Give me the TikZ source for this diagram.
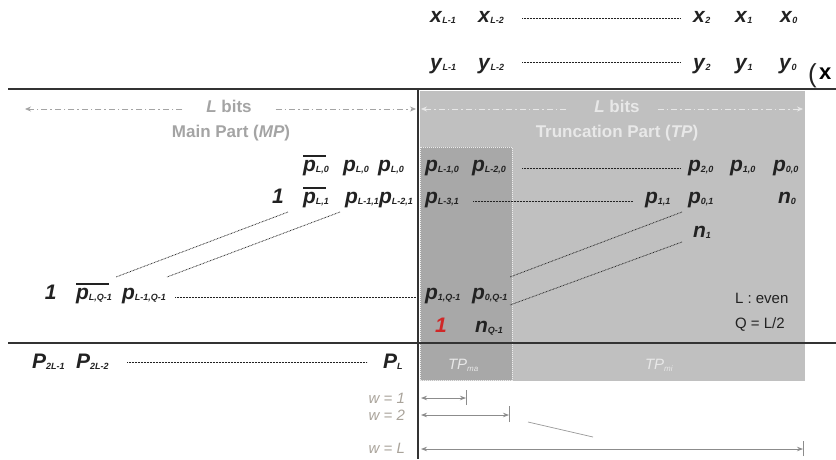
\documentclass[tikz,border=0pt]{standalone}
\usepackage{fontspec}
\setmainfont{Liberation Sans}
\usetikzlibrary{arrows.meta}
\definecolor{tpgray}{HTML}{C0C0C0}
\definecolor{tpdark}{HTML}{A8A8A8}
\definecolor{ink}{HTML}{222222}
\definecolor{mpgray}{HTML}{A4A4A4}
\definecolor{tplight}{HTML}{E8E8E8}
\definecolor{wgray}{HTML}{A9A39A}
\definecolor{rulec}{HTML}{333333}
\definecolor{onered}{HTML}{D02828}
\newcommand\V[2]{\textbf{\textit{#1}}\raisebox{-1.5pt}{\fontsize{9}{9}\selectfont\textbf{\textit{#2}}}}
\newsavebox\vbbox
\newcommand\Vb[2]{\sbox\vbbox{\V{#1}{#2}}\rlap{\rule[14.5pt]{\dimexpr\wd\vbbox-3pt\relax}{1.3pt}}\usebox\vbbox}
\begin{document}
\begin{tikzpicture}[x=1pt,y=-1pt,
  every node/.style={inner sep=0pt, outer sep=0pt},
  var/.style={anchor=base west, text=ink, font=\fontsize{21}{24}\selectfont},
  dotline/.style={draw=ink, line width=0.8pt, dash pattern=on 0.7pt off 0.8pt},
  rulel/.style={draw=rulec, line width=1.3pt},
  bitarrow/.style={dash pattern=on 6pt off 3pt on 1.5pt off 3pt, line width=0.8pt, -{Stealth[length=6pt,width=5pt]}},
  head/.style={anchor=base, font=\fontsize{17}{20}\selectfont\bfseries},
  wlab/.style={anchor=base east, text=wgray, font=\fontsize{15}{18}\selectfont\itshape},
  warrow/.style={draw=gray!90, line width=0.8pt, {Stealth[length=6pt,width=4.5pt]}-{Stealth[length=6pt,width=4.5pt]}},
  tick/.style={draw=gray!90, line width=0.8pt},
  note/.style={anchor=base west, text=ink, font=\fontsize{15}{18}\selectfont},
  tplab/.style={anchor=base west, text=tplight, font=\fontsize{15}{18}\selectfont\itshape}
]
\useasboundingbox (0,0) rectangle (836,459);
% shaded areas
\fill[tpgray] (420,91) rectangle (805,381);
\fill[tpdark] (420,147) rectangle (512,380);
\draw[white!85!gray, line width=0.6pt, dash pattern=on 1pt off 1pt] (420,147) rectangle (512,380);
% black rules
\draw[rulel] (8,89) -- (836,89);
\draw[rulel] (8,343) -- (836,343);
\draw[rulel] (418,89) -- (418,459);
% top operands
\node[var] (xL1) at (430,22) {\V{x}{L-1}};
\node[var] (xL2) at (478,22) {\V{x}{L-2}};
\node[var] (x2) at (693,22) {\V{x}{2}};
\node[var] (x1) at (735,22) {\V{x}{1}};
\node[var] (x0) at (780,22) {\V{x}{0}};
\coordinate (dxa) at (522,18); \coordinate (dxb) at (680,18);
\draw[dotline] (dxa) -- (dxb);
\node[var] (yL1) at (430,69) {\V{y}{L-1}};
\node[var] (yL2) at (478,69) {\V{y}{L-2}};
\node[var] (y2) at (693,69) {\V{y}{2}};
\node[var] (y1) at (735,69) {\V{y}{1}};
\node[var] (y0) at (779,69) {\V{y}{0}};
\coordinate (dya) at (522,62); \coordinate (dyb) at (680,62);
\draw[dotline] (dya) -- (dyb);
\node[anchor=base west, text=ink, font=\fontsize{26}{26}\selectfont] (paren) at (808,82) {(};
\node[anchor=base west, text=black, font=\fontsize{22}{24}\selectfont\bfseries] (times) at (819,79) {x};
% headers
\node[head, text=mpgray] (mpbits) at (229,112) {\textit{L} bits};
\node[head, text=mpgray] (mpname) at (231,137) {Main Part (\textit{MP})};
\coordinate (mpl) at (25,109); \coordinate (mpr) at (416,109);
\draw[bitarrow, draw=mpgray] ([xshift=-24pt]mpbits.west |- mpl) -- (mpl);
\draw[bitarrow, draw=mpgray] ([xshift=24pt]mpbits.east |- mpr) -- (mpr);
\node[head, text=tplight] (tpbits) at (617,112) {\textit{L} bits};
\node[head, text=tplight] (tpname) at (617,137) {Truncation Part (\textit{TP})};
\coordinate (tpl) at (421,109); \coordinate (tpr) at (803,109);
\draw[bitarrow, draw=tplight] ([xshift=-28pt]tpbits.west |- tpl) -- (tpl);
\draw[bitarrow, draw=tplight] ([xshift=18pt]tpbits.east |- tpr) -- (tpr);
% row 0
\node[var] (r0a) at (303,171) {\Vb{p}{L,0}};
\node[var] (r0b) at (343,171) {\V{p}{L,0}};
\node[var] (r0c) at (378,171) {\V{p}{L,0}};
\node[var] (r0d) at (425,171) {\V{p}{L-1,0}};
\node[var] (r0e) at (472,171) {\V{p}{L-2,0}};
\node[var] (r0f) at (688,171) {\V{p}{2,0}};
\node[var] (r0g) at (730,171) {\V{p}{1,0}};
\node[var] (r0h) at (773,171) {\V{p}{0,0}};
\coordinate (d0a) at (522,168); \coordinate (d0b) at (680,168);
\draw[dotline] (d0a) -- (d0b);
% row 1
\node[var] (r1one) at (272,203) {\textbf{\textit{1}}};
\node[var] (r1a) at (303,203) {\Vb{p}{L,1}};
\node[var] (r1b) at (345,203) {\V{p}{L-1,1}};
\node[var] (r1c) at (379,203) {\V{p}{L-2,1}};
\node[var] (r1d) at (425,203) {\V{p}{L-3,1}};
\node[var] (r1e) at (645,203) {\V{p}{1,1}};
\node[var] (r1f) at (688,203) {\V{p}{0,1}};
\node[var] (n0) at (778,203) {\V{n}{0}};
\coordinate (d1a) at (473,201); \coordinate (d1b) at (633,201);
\draw[dotline] (d1a) -- (d1b);
% row 2
\node[var] (n1) at (693,237) {\V{n}{1}};
% row Q-1
\node[var] (rqone) at (45,299) {\textbf{\textit{1}}};
\node[var] (rqa) at (76,299) {\Vb{p}{L,Q-1}};
\node[var] (rqb) at (122,299) {\V{p}{L-1,Q-1}};
\node[var] (rqc) at (425,299) {\V{p}{1,Q-1}};
\node[var] (rqd) at (472,299) {\V{p}{0,Q-1}};
\coordinate (dqa) at (175,297); \coordinate (dqb) at (416,297);
\draw[dotline] (dqa) -- (dqb);
% row Q
\node[var, text=onered] (redone) at (435,332) {\textbf{\textit{1}}};
\node[var] (nq) at (475,332) {\V{n}{Q-1}};
\node[note] (even) at (735,303) {L : even};
\node[note] (qhalf) at (735,328) {Q = L/2};
% diagonal dotted connectors
\coordinate (g1a) at (288,212); \coordinate (g1b) at (116,277);
\coordinate (g2a) at (340,212); \coordinate (g2b) at (167,277);
\coordinate (g3a) at (682,212); \coordinate (g3b) at (510,277);
\coordinate (g4a) at (682,242); \coordinate (g4b) at (510,305);
\draw[dotline] (g1a) -- (g1b);
\draw[dotline] (g2a) -- (g2b);
\draw[dotline] (g3a) -- (g3b);
\draw[dotline] (g4a) -- (g4b);
% bottom product row
\node[var] (P2L1) at (32,368) {\V{P}{2L-1}};
\node[var] (P2L2) at (76,368) {\V{P}{2L-2}};
\node[var] (PL) at (383,368) {\V{P}{L}};
\coordinate (dpa) at (127,362); \coordinate (dpb) at (367,362);
\draw[dotline] (dpa) -- (dpb);
\node[tplab] (tpma) at (448,369) {TP\raisebox{-2pt}{\fontsize{8}{8}\selectfont ma}};
\node[tplab] (tpmi) at (645,369) {TP\raisebox{-2pt}{\fontsize{8}{8}\selectfont mi}};
% w arrows
\node[wlab] (w1) at (405,403) {w = 1};
\node[wlab] (w2) at (405,420) {w = 2};
\node[wlab] (wL) at (405,453) {w = L};
\coordinate (a1l) at (421,398); \coordinate (a1r) at (466,398);
\coordinate (a2l) at (421,415); \coordinate (a2r) at (509,415);
\coordinate (aLl) at (421,449); \coordinate (aLr) at (803,449);
\draw[warrow] (a1l) -- (a1r);
\draw[warrow] (a2l) -- (a2r);
\draw[warrow] (aLl) -- (aLr);
\draw[tick] ([yshift=-7pt]a1r) -- ([yshift=8pt]a1r);
\draw[tick] ([yshift=-7pt]a2r) -- ([yshift=9pt]a2r);
\draw[tick] ([yshift=-7pt]aLr) -- ([yshift=8pt]aLr);
\coordinate (sa) at (528,422); \coordinate (sb) at (593,437);
\draw[gray!80, line width=0.7pt] (sa) -- (sb);
\end{tikzpicture}
\end{document}
